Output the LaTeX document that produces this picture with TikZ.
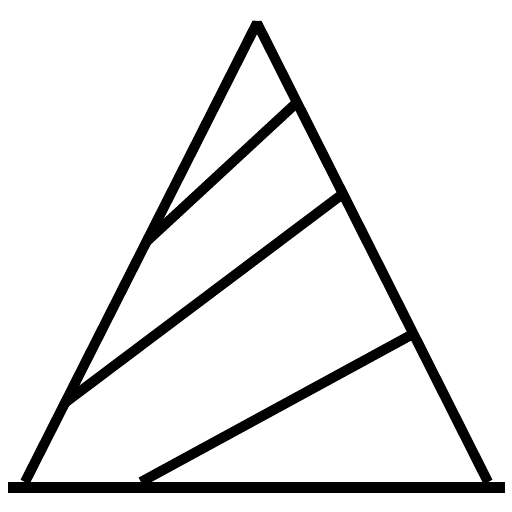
\documentclass[tikz,border=0pt]{standalone}
\usetikzlibrary{calc}
\begin{document}
\begin{tikzpicture}[x=1pt,y=-1pt,
  edge/.style={line width=10pt,line cap=butt,line join=bevel},
  chord/.style={line width=10pt,line cap=butt}]
\useasboundingbox (0,0) rectangle (512,512);
\fill[white] (0,0) rectangle (512,512);
\coordinate (A) at (257,23);
\coordinate (L) at (25,482);
\coordinate (R) at (488,482);
% base
\coordinate (B1) at (8,487.5);
\coordinate (B2) at (505,487.5);
\draw[line width=11pt] (B1) -- (B2);
% sides
\draw[edge] (L) -- (A) -- (R);
% chords
\coordinate (a1) at (141,482);
\coordinate (a2) at ($(A)!0.677!(R)$);
\coordinate (b1) at ($(A)!0.372!(R)$);
\coordinate (b2) at ($(A)!0.827!(L)$);
\coordinate (c1) at ($(A)!0.476!(L)$);
\coordinate (c2) at ($(A)!0.173!(R)$);
\draw[chord] (a1) -- (a2);
\draw[chord] (b1) -- (b2);
\draw[chord] (c1) -- (c2);
\end{tikzpicture}
\end{document}
